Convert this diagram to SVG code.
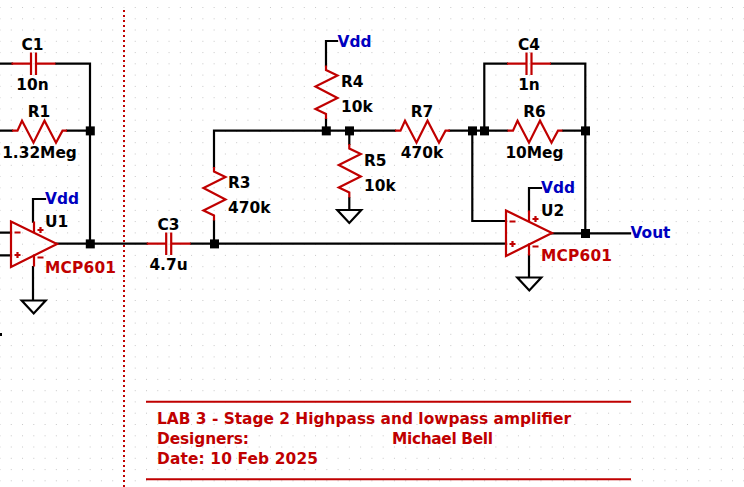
<svg xmlns="http://www.w3.org/2000/svg" width="744" height="487" viewBox="0 0 744 487">
<style>
text{font-family:"DejaVu Sans",sans-serif;font-weight:bold;font-size:15.4px}
.n{fill:#000}.r{fill:#c00000}.b{fill:#0000c0}.m{text-anchor:middle}
.w{fill:none;stroke:#000;stroke-width:2.2;stroke-linecap:square}
.p{fill:none;stroke:#c00000;stroke-width:2.2;stroke-linejoin:miter}
.g{fill:#fff;stroke:#000;stroke-width:2.2}
.j{fill:#000}
</style>
<defs>
<rect id="dot" class="j" x="-4.5" y="-4.5" width="9" height="9"/>
<path id="rh" class="p" d="M0 0H5.5L10 -10L21.5 12L32.5 -10L44 12L50.5 0H55"/>
<path id="rv" class="p" d="M0 0V4.5L11.5 10L-10.5 21L11.5 32.5L-10.5 43.5L0 48.5V53.5"/>
<path id="cap" class="p" d="M0 0H19.5M24.5 0H44M19.5 -11.2V11.2M24.5 -11.2V11.2"/>
<path id="gnd" class="g" d="M-12 0H12L0 13Z"/>
<g id="amp">
<path class="p" d="M0 0V45.5L46 22.5Z"/>
<path class="p" d="M23 0V11M23 33V45M3.5 11H9.5M3.5 33.5H9.5M6.5 30.5V36.5M26.5 8.5H32.5M29.5 5.5V11.5M26.5 36H32.5"/>
</g>
</defs>
<path id="grid" fill="none" stroke="#c8c8c8" stroke-width="1" stroke-dasharray="1 10.27" stroke-dashoffset="0.5" d="M0 7.5H744M0 18.8H744M0 30H744M0 41.3H744M0 52.6H744M0 63.8H744M0 75.1H744M0 86.4H744M0 97.7H744M0 108.9H744M0 120.2H744M0 131.5H744M0 142.7H744M0 154H744M0 165.3H744M0 176.5H744M0 187.8H744M0 199.1H744M0 210.4H744M0 221.6H744M0 232.9H744M0 244.2H744M0 255.4H744M0 266.7H744M0 278H744M0 289.2H744M0 300.5H744M0 311.8H744M0 323.1H744M0 334.3H744M0 345.6H744M0 356.9H744M0 368.1H744M0 379.4H744M0 390.7H744M0 401.9H744M0 413.2H744M0 424.5H744M0 435.8H744M0 447H744M0 458.3H744M0 469.6H744M0 480.8H744"/>
<path id="divider" fill="none" stroke="#c00000" stroke-width="2" stroke-dasharray="2 3" d="M124 10V487"/>
<g id="connectors">
<path class="w" d="M0 63.7H12M56 63.7H90V243.7M0 130.7H12M67 130.7H90M0 232.7H11M0 255.3H11M33 221.7V199H45M33 267V300M57 243.7H147M191 243.7H506M214 130.7V167M214 221V243.7M214 130.7H395M449.5 130.7H507M563 130.7H585M326 65.5V41H337M326 119V130.7M349.3 130.7V144M349.3 198V210M472.3 130.7V221H506M484.3 130.7V63.7H507M551 63.7H585.3V233.3M552 233.3H630M529 210.7V188H541M529 255V277.5"/>
<rect class="j" x="0" y="333" width="2" height="3"/>
<g id="junctions">
<use href="#dot" x="90.3" y="130.9"/><use href="#dot" x="90.3" y="243.9"/><use href="#dot" x="214.5" y="243.9"/><use href="#dot" x="326.3" y="130.9"/><use href="#dot" x="349.5" y="130.9"/><use href="#dot" x="472.5" y="130.9"/><use href="#dot" x="484.5" y="130.9"/><use href="#dot" x="585.5" y="130.9"/><use href="#dot" x="585.5" y="233.5"/>
</g>
</g>
<g id="C1"><use href="#cap" x="11.5" y="63.7"/><text class="n m" x="32.5" y="50">C1</text><text class="n m" x="32.5" y="89.5">10n</text></g>
<g id="R1"><use href="#rh" x="12" y="130.7"/><text class="n m" x="39" y="116.7">R1</text><text class="n m" x="39.5" y="157.7">1.32Meg</text></g>
<g id="U1"><use href="#amp" x="11" y="221.5"/><use href="#gnd" x="33.7" y="300.5"/><text class="b" x="45" y="204.3">Vdd</text><text class="n" x="45" y="226.7">U1</text><text class="r" x="45" y="272.7" textLength="71">MCP601</text></g>
<g id="C3"><use href="#cap" x="146.7" y="243.7"/><text class="n m" x="168.5" y="230">C3</text><text class="n m" x="168.5" y="270">4.7u</text></g>
<g id="R3"><use href="#rv" x="214" y="167"/><text class="n" x="228" y="188">R3</text><text class="n" x="228" y="213">470k</text></g>
<g id="R4"><use href="#rv" x="326" y="65.5"/><text class="n" x="341" y="86.7">R4</text><text class="n" x="341" y="111.7">10k</text><text class="b" x="337.5" y="46.7">Vdd</text></g>
<g id="R5"><use href="#rv" x="349.3" y="144"/><use href="#gnd" x="349.3" y="210"/><text class="n" x="364" y="165.7">R5</text><text class="n" x="364" y="190.7">10k</text></g>
<g id="R7"><use href="#rh" x="395" y="130.7"/><text class="n m" x="422" y="116.7">R7</text><text class="n m" x="422" y="157.7">470k</text></g>
<g id="C4"><use href="#cap" x="507" y="63.7"/><text class="n m" x="529" y="50">C4</text><text class="n m" x="529" y="89.5">1n</text></g>
<g id="R6"><use href="#rh" x="507.5" y="130.7"/><text class="n m" x="534.5" y="116.7">R6</text><text class="n m" x="534.5" y="157.7">10Meg</text></g>
<g id="U2"><use href="#amp" x="506" y="210.5"/><use href="#gnd" x="529.3" y="277.5"/><text class="b" x="541" y="193.3">Vdd</text><text class="n" x="541" y="215.7">U2</text><text class="r" x="541" y="260.7" textLength="71">MCP601</text></g>
<g id="Vout"><text class="b" x="630.5" y="238.3">Vout</text></g>
<g id="title">
<path fill="none" stroke="#c00000" stroke-width="2" d="M146 401.7H631M146 479.3H631"/>
<text class="r" x="157" y="424" textLength="414">LAB 3 - Stage 2 Highpass and lowpass amplifier</text>
<text class="r" x="157" y="444" textLength="92">Designers:</text>
<text class="r" x="392" y="444" textLength="101">Michael Bell</text>
<text class="r" x="157" y="464" textLength="161">Date: 10 Feb 2025</text>
</g>
</svg>
